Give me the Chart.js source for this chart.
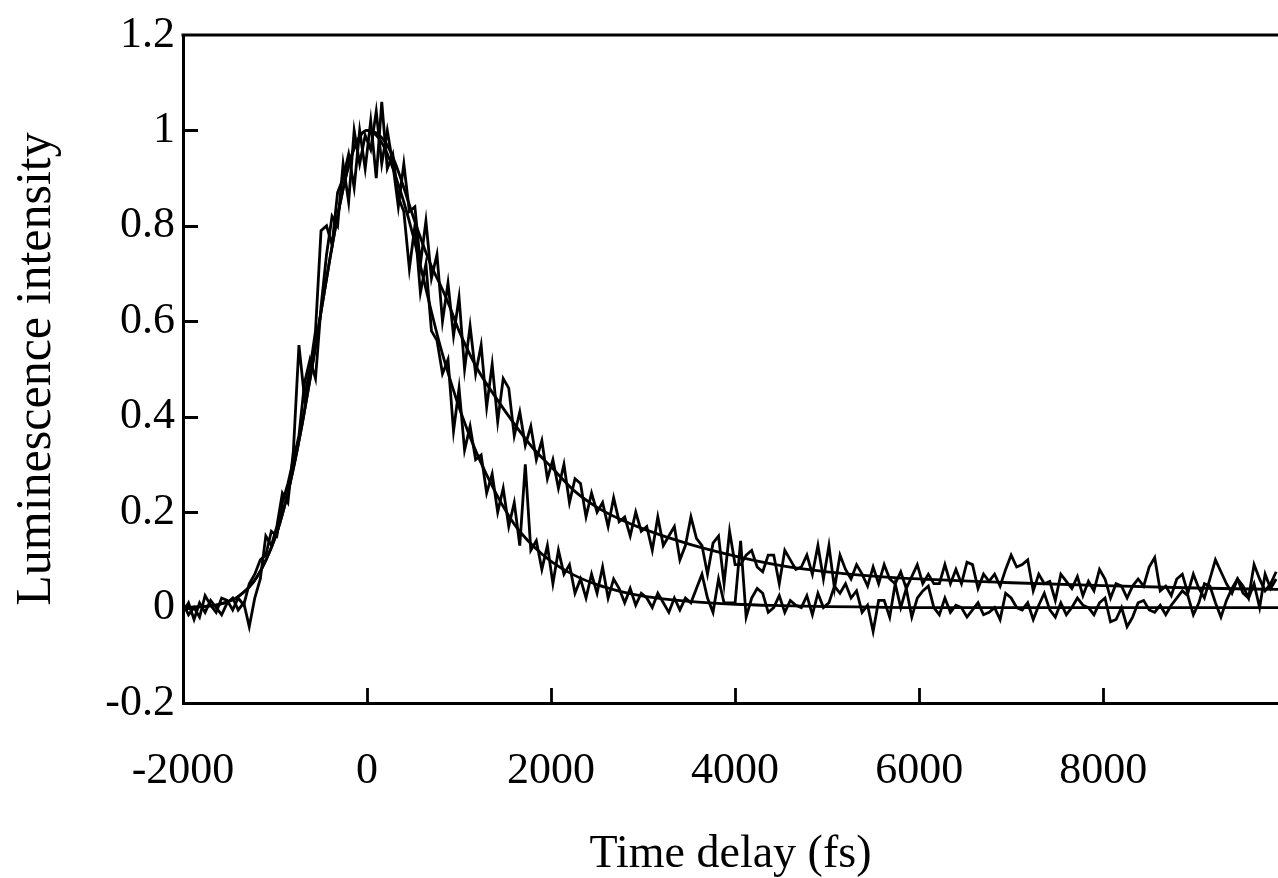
<!DOCTYPE html>
<html>
<head>
<meta charset="utf-8">
<title>Luminescence decay</title>
<script src="https://cdn.jsdelivr.net/npm/chart.js@4/dist/chart.umd.min.js"></script>
<style>
  html, body { margin: 0; padding: 0; background: #fff; overflow: hidden; }
  #wrap { width: 1278px; height: 878px; }
</style>
</head>
<body>
<div id="wrap"><canvas id="lum" width="1278" height="878"></canvas></div>
<script>
'use strict';

/* ── Data ─────────────────────────────────────────────────── */
// time delay of the measured points, fs
const delay = [
  -2000,-1940,-1880,-1820,-1760,-1700,-1640,-1580,-1520,-1460,
  -1400,-1340,-1280,-1220,-1160,-1100,-1040,-980,-920,-860,
  -800,-740,-680,-620,-560,-500,-440,-380,-320,-260,
  -200,-140,-80,-20,40,100,160,220,280,340,
  400,460,520,580,640,700,760,820,880,940,
  1000,1060,1120,1180,1240,1300,1360,1420,1480,1540,
  1600,1660,1720,1780,1840,1900,1960,2020,2080,2140,
  2200,2260,2320,2380,2440,2500,2560,2620,2680,2740,
  2800,2860,2920,2980,3040,3100,3160,3220,3280,3340,
  3400,3460,3520,3580,3640,3700,3760,3820,3880,3940,
  4000,4060,4120,4180,4240,4300,4360,4420,4480,4540,
  4600,4660,4720,4780,4840,4900,4960,5020,5080,5140,
  5200,5260,5320,5380,5440,5500,5560,5620,5680,5740,
  5800,5860,5920,5980,6040,6100,6160,6220,6280,6340,
  6400,6460,6520,6580,6640,6700,6760,6820,6880,6940,
  7000,7060,7120,7180,7240,7300,7360,7420,7480,7540,
  7600,7660,7720,7780,7840,7900,7960,8020,8080,8140,
  8200,8260,8320,8380,8440,8500,8560,8620,8680,8740,
  8800,8860,8920,8980,9040,9100,9160,9220,9280,9340,
  9400,9460,9520,9580,9640,9700,9760,9820,9880
];

// measured trace with the slow decay
const slowData = [
  0.01,-0.015,0.0,-0.02,0.025,0.005,-0.01,0.02,0.015,-0.005,
  0.02,0.005,0.05,0.07,0.1,0.11,0.16,0.15,0.22,0.26,
  0.31,0.36,0.47,0.52,0.48,0.63,0.74,0.82,0.80,0.93,
  0.85,1.0,0.93,0.99,0.96,1.04,0.93,1.0,0.93,0.84,
  0.93,0.83,0.84,0.72,0.81,0.69,0.74,0.60,0.68,0.57,
  0.65,0.50,0.59,0.49,0.55,0.42,0.51,0.39,0.48,0.46,
  0.36,0.41,0.34,0.38,0.31,0.35,0.27,0.31,0.25,0.30,
  0.22,0.27,0.26,0.19,0.24,0.20,0.22,0.17,0.23,0.18,
  0.19,0.15,0.20,0.16,0.17,0.12,0.19,0.13,0.15,0.17,
  0.10,0.13,0.19,0.145,0.13,0.07,0.135,0.15,0.05,0.16,
  0.09,0.09,0.11,0.12,0.085,0.075,0.11,0.11,0.05,0.12,
  0.10,0.08,0.085,0.11,0.07,0.13,0.06,0.13,0.04,0.11,
  0.08,0.06,0.09,0.07,0.045,0.085,0.05,0.09,0.06,0.05,
  0.075,0.04,0.065,0.09,0.05,0.07,0.05,0.05,0.09,0.05,
  0.08,0.05,0.095,0.09,0.04,0.07,0.055,0.07,0.045,0.08,
  0.11,0.085,0.09,0.10,0.035,0.07,0.05,0.055,0.015,0.07,
  0.055,0.04,0.065,0.025,0.055,0.035,0.08,0.06,0.02,0.05,
  0.045,0.02,0.045,0.06,0.045,0.085,0.105,0.035,0.045,0.025,
  0.06,0.07,0.03,0.07,0.04,0.02,0.06,0.1,0.075,0.05,
  0.03,0.06,0.045,0.02,0.09,0.06,0.035,0.05,0.075
];

// measured trace with the fast decay
const fastData = [
  -0.01,0.01,-0.025,0.01,-0.01,0.015,0.0,-0.015,0.01,0.02,
  -0.005,0.01,-0.04,0.02,0.06,0.15,0.13,0.17,0.24,0.22,
  0.33,0.55,0.44,0.50,0.58,0.79,0.80,0.76,0.87,0.90,
  0.95,0.88,1.0,0.92,1.02,0.9,1.06,0.92,0.95,0.86,
  0.83,0.71,0.80,0.66,0.72,0.58,0.56,0.49,0.52,0.37,
  0.46,0.33,0.38,0.31,0.32,0.24,0.28,0.20,0.25,0.17,
  0.22,0.13,0.30,0.12,0.14,0.08,0.13,0.05,0.12,0.07,
  0.09,0.03,0.06,0.02,0.07,0.03,0.085,0.02,0.06,0.04,
  0.01,0.04,0.005,0.03,0.02,0.0,0.03,0.01,-0.01,0.02,
  -0.005,0.02,0.01,0.04,0.07,0.02,-0.01,0.06,0.01,0.01,
  0.01,0.14,-0.02,0.02,0.04,0.03,-0.01,0.0,0.025,-0.01,
  0.015,0.005,0.0,0.025,-0.015,0.03,0.0,0.01,0.045,0.03,
  0.05,0.02,0.035,-0.01,0.005,-0.05,0.015,0.015,-0.02,0.05,
  0.0,0.04,-0.02,0.02,0.035,0.045,0.0,-0.015,0.02,-0.01,
  0.005,0.0,-0.02,-0.005,0.01,-0.015,-0.01,0.0,-0.025,0.03,
  0.02,0.0,-0.005,0.01,-0.025,0.005,0.03,-0.005,-0.02,0.01,
  -0.015,0.0,0.02,0.005,0.0,-0.015,0.01,0.02,-0.03,-0.025,
  0.0,-0.04,-0.02,0.01,0.015,-0.005,-0.01,0.005,-0.015,0.005,
  0.02,0.035,0.025,-0.015,0.01,0.05,0.045,0.01,-0.02,0.015,
  0.04,0.06,0.03,0.02,0.05,0.0,0.07,0.04,0.06
];

// fitted curves
const fitDelay = [
  -2000,-1800,-1600,-1400,-1200,-1000,-900,-800,-700,-600,-500,-400,-300,-200,-100,0,
  100,200,300,400,500,600,700,800,900,1000,1200,1400,1600,1800,2000,2250,2500,2750,
  3000,3500,4000,4500,5000,5500,6000,7000,8000,9000,9900
];
const fitSlow = [
  0,0.002,0.007,0.023,0.063,0.146,0.21,0.292,0.39,0.5,0.62,0.735,0.84,0.926,0.98,1.0,
  0.995,0.975,0.935,0.88,0.82,0.765,0.715,0.675,0.63,0.58,0.5,0.44,0.385,0.335,0.295,0.245,0.21,0.185,
  0.165,0.133,0.108,0.088,0.075,0.066,0.06,0.052,0.046,0.041,0.038
];
const fitFast = [
  0,0.002,0.007,0.023,0.063,0.146,0.21,0.292,0.39,0.5,0.62,0.735,0.84,0.926,0.98,1.0,
  0.99,0.96,0.91,0.85,0.78,0.70,0.62,0.545,0.48,0.42,0.32,0.24,0.175,0.13,0.097,0.068,0.048,0.034,
  0.024,0.013,0.007,0.004,0.002,0.001,0,0,0,0,0
];

const xTicks = [-2000, 0, 2000, 4000, 6000, 8000];
const yTicks = [-0.2, 0, 0.2, 0.4, 0.6, 0.8, 1, 1.2];

/* ── Helpers ──────────────────────────────────────────────── */
const SERIF = '"Liberation Serif", "Times New Roman", serif';
const pts = (xs, ys) => xs.map((x, i) => ({ x, y: ys[i] }));

const traceStyle = { borderColor: '#000', borderWidth: 2.8, pointRadius: 0, tension: 0, fill: false,
                     borderJoinStyle: 'miter' };
const fitStyle   = { borderColor: '#000', borderWidth: 2.8, pointRadius: 0, fill: false,
                     cubicInterpolationMode: 'monotone' };

// Frame top edge + inward tick marks (the original figure has ticks inside the box)
const framePlugin = {
  id: 'frame',
  afterDraw(ch) {
    const { ctx, chartArea: a, scales: { x, y } } = ch;
    const TL = 15;
    ctx.save();
    ctx.strokeStyle = '#000';
    ctx.lineWidth = 3;
    ctx.beginPath();
    ctx.moveTo(a.left - 1.5, a.top);
    ctx.lineTo(a.right + 2, a.top);
    ctx.stroke();

    ctx.lineWidth = 2.8;
    ctx.beginPath();
    for (const v of xTicks) {
      const px = Math.round(x.getPixelForValue(v)) + 0.5;
      if (px <= a.left + 2) continue;
      ctx.moveTo(px, a.bottom);
      ctx.lineTo(px, a.bottom - TL);
    }
    for (const v of yTicks) {
      const py = Math.round(y.getPixelForValue(v)) + 0.5;
      if (py >= a.bottom - 2 || py <= a.top + 2) continue;
      ctx.moveTo(a.left, py);
      ctx.lineTo(a.left + TL, py);
    }
    ctx.stroke();
    ctx.restore();
  }
};

/* ── Chart ────────────────────────────────────────────────── */
new Chart(document.getElementById('lum').getContext('2d'), {
  type: 'line',
  data: {
    datasets: [
      { label: 'slow trace', data: pts(delay, slowData), ...traceStyle },
      { label: 'fast trace', data: pts(delay, fastData), ...traceStyle },
      { label: 'slow fit',   data: pts(fitDelay, fitSlow), ...fitStyle },
      { label: 'fast fit',   data: pts(fitDelay, fitFast), ...fitStyle },
    ]
  },
  plugins: [framePlugin],
  options: {
    responsive: false,
    animation: false,
    devicePixelRatio: 1,
    layout: { padding: { top: 35, right: 0, left: 0, bottom: 0 } },
    plugins: { legend: { display: false }, tooltip: { enabled: false } },
    scales: {
      x: {
        type: 'linear',
        min: -2000,
        max: 9900,
        afterBuildTicks: s => { s.ticks = xTicks.map(value => ({ value })); },
        afterFit: s => { s.height = 175; },
        grid: { display: false, drawTicks: false },
        border: { display: true, color: '#000', width: 3 },
        ticks: {
          color: '#000',
          padding: 42,
          maxRotation: 0,
          font: { family: SERIF, size: 44 },
          callback: v => String(v)
        },
        title: {
          display: true,
          text: 'Time delay (fs)',
          color: '#000',
          font: { family: SERIF, size: 46, lineHeight: 1 },
          padding: { top: 0, bottom: 0 }
        }
      },
      y: {
        min: -0.2,
        max: 1.2,
        afterBuildTicks: s => { s.ticks = yTicks.map(value => ({ value })); },
        afterFit: s => { s.width = 183; },
        grid: { display: false, drawTicks: false },
        border: { display: true, color: '#000', width: 3 },
        ticks: {
          color: '#000',
          padding: 8,
          font: { family: SERIF, size: 44 },
          callback: v => String(Number(v.toFixed(1)))
        },
        title: {
          display: true,
          text: 'Luminescence intensity',
          color: '#000',
          font: { family: SERIF, size: 50, lineHeight: 1 },
          padding: { top: 12, bottom: 0 }
        }
      }
    }
  }
});
</script>
</body>
</html>
